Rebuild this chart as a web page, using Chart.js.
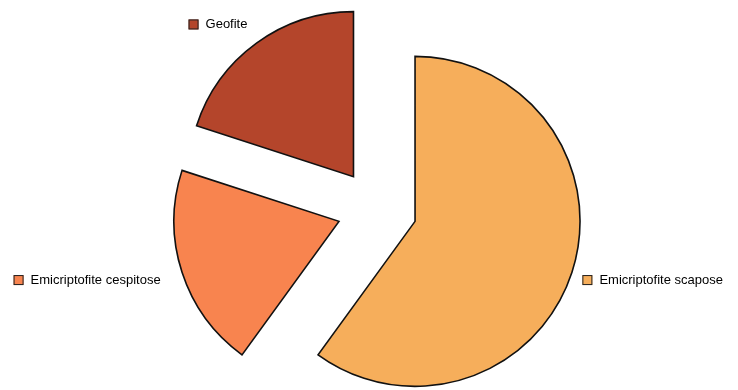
<!DOCTYPE html>
<html>
<head>
<meta charset="utf-8">
<style>
  html, body { margin: 0; padding: 0; background: #fff; }
  #wrap { width: 738px; height: 390px; }
</style>
<script src="https://cdn.jsdelivr.net/npm/chart.js@4/dist/chart.umd.min.js"></script>
</head>
<body>
<div id="wrap"><canvas id="lifeFormChart"></canvas></div>
<script>
const categories = ["Emicriptofite scapose", "Emicriptofite cespitose", "Geofite"];
const shares = [60, 20, 20];
const sliceColors = ["#f6ae5b", "#f8844f", "#b4452b"];
const explodeBy = 40;

// pull every slice out along its middle angle (Chart.js' own offset also grows big slices)
const explodeSlices = {
    id: "explodeSlices",
    afterUpdate(chart) {
        chart.getDatasetMeta(0).data.forEach(arc => {
            const mid = (arc.startAngle + arc.endAngle) / 2;
            arc.x += Math.cos(mid) * explodeBy;
            arc.y += Math.sin(mid) * explodeBy;
        });
    }
};

// labels drawn next to each slice, with a small colour key
const sliceLabels = {
    id: "sliceLabels",
    afterDatasetsDraw(chart) {
        const ctx = chart.ctx;
        const meta = chart.getDatasetMeta(0);
        ctx.save();
        ctx.font = "13px 'Liberation Sans', Arial, sans-serif";
        ctx.textBaseline = "middle";

        meta.data.forEach((arc, i) => {
            const mid = (arc.startAngle + arc.endAngle) / 2;
            const dx = Math.cos(mid);
            const dy = Math.sin(mid);
            const r = arc.outerRadius + 12;
            const px = arc.x + dx * r;
            const py = arc.y + dy * r;

            const text = chart.data.labels[i];
            const keySize = 10;
            const keyGap = 7;
            const w = keySize + keyGap + ctx.measureText(text).width;
            const h = 14;

            let left;
            let midY;
            if (Math.abs(dy) > 0.5) {
                left = dx < 0 ? px - w - 2 : px;
                midY = dy < 0 ? py - h / 2 - 2 : py + h / 2;
            } else {
                left = dx < 0 ? px - w - 10 : px - 1;
                midY = py + 4;
            }

            ctx.fillStyle = sliceColors[i];
            ctx.fillRect(left, midY - keySize / 2, keySize, keySize);
            ctx.strokeStyle = "#222";
            ctx.lineWidth = 1;
            ctx.strokeRect(left + 0.5, midY - keySize / 2 + 0.5, keySize - 1, keySize - 1);

            ctx.fillStyle = "#000";
            ctx.textAlign = "left";
            ctx.fillText(text, left + keySize + keyGap, midY);
        });
        ctx.restore();
    }
};

new Chart(document.getElementById("lifeFormChart"), {
    type: "pie",
    data: {
        labels: categories,
        datasets: [{
            data: shares,
            backgroundColor: sliceColors,
            borderColor: "#111",
            borderWidth: 1.6,
            borderJoinStyle: "miter",
            clip: false
        }]
    },
    options: {
        responsive: true,
        maintainAspectRatio: false,
        animation: false,
        radius: 165,
        layout: {
            padding: { left: 16, right: 0, top: 28, bottom: 0 }
        },
        plugins: {
            legend: { display: false },
            tooltip: { enabled: false }
        }
    },
    plugins: [explodeSlices, sliceLabels]
});
</script>
</body>
</html>
